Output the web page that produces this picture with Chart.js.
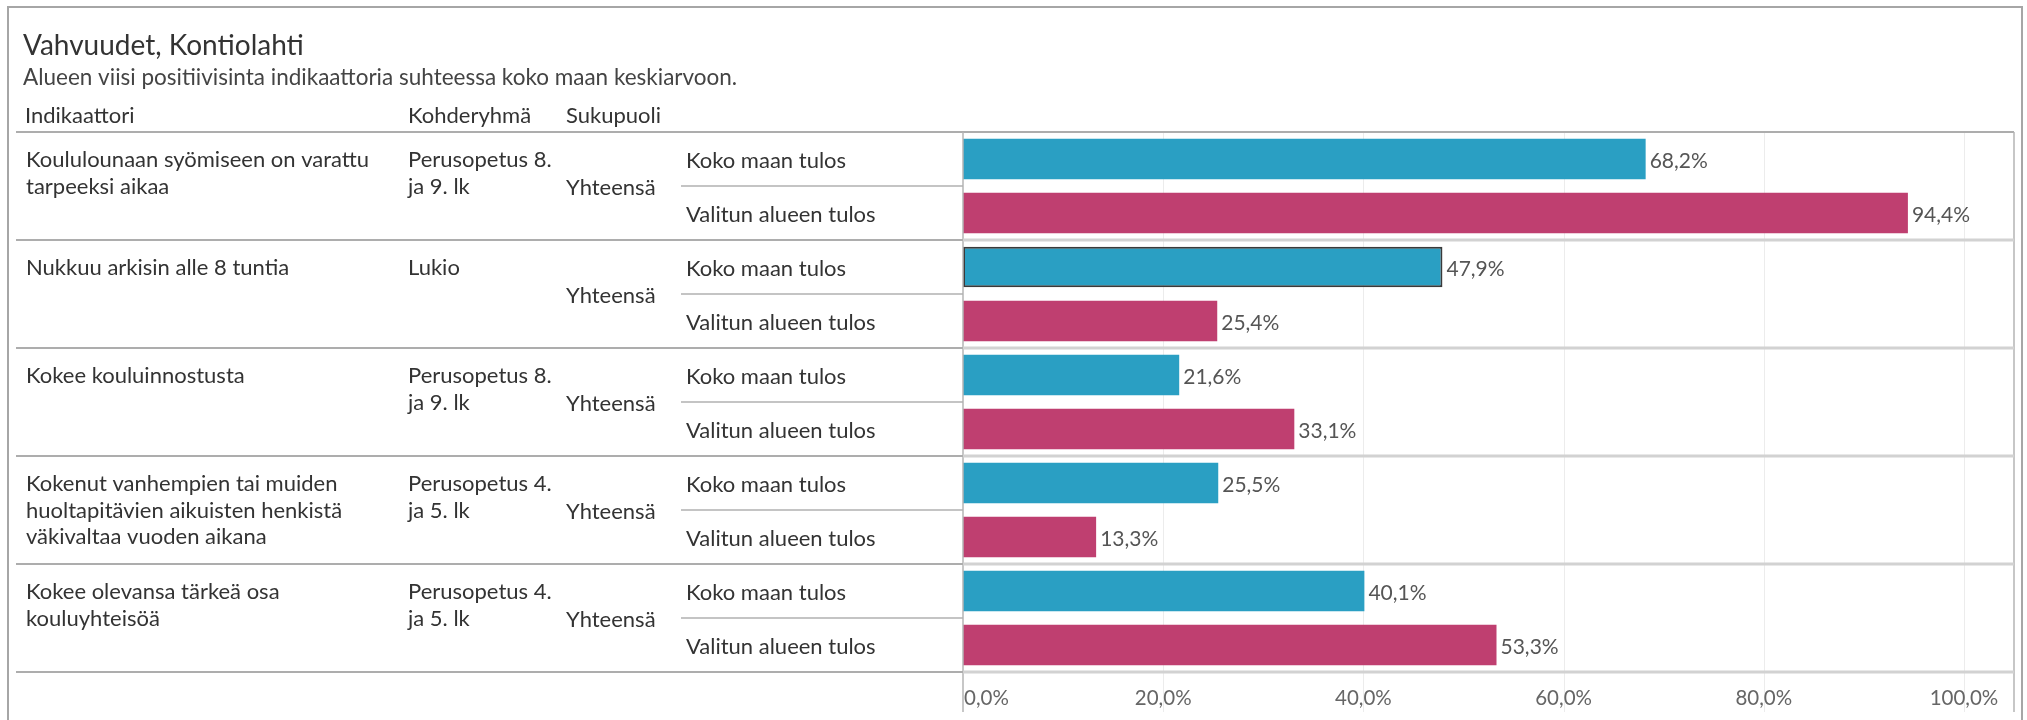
<!DOCTYPE html>
<html>
<head>
<meta charset="utf-8">
<script src="https://cdn.jsdelivr.net/npm/chart.js@4/dist/chart.umd.min.js"></script>
<style>
  html, body { margin: 0; padding: 0; background: #fff; }
  canvas { display: block; }
</style>
</head>
<body>
<canvas id="c" width="2027" height="720"></canvas>
<script>
// ---- data ----
const chartTitle = "Vahvuudet, Kontiolahti";
const chartSubtitle = "Alueen viisi positiivisinta indikaattoria suhteessa koko maan keskiarvoon.";
const columnHeaders = ["Indikaattori", "Kohderyhmä", "Sukupuoli"];
const indicators = [
  ["Koululounaan syömiseen on varattu", "tarpeeksi aikaa"],
  ["Nukkuu arkisin alle 8 tuntia"],
  ["Kokee kouluinnostusta"],
  ["Kokenut vanhempien tai muiden", "huoltapitävien aikuisten henkistä", "väkivaltaa vuoden aikana"],
  ["Kokee olevansa tärkeä osa", "kouluyhteisöä"]
];
const targetGroups = [
  ["Perusopetus 8.", "ja 9. lk"],
  ["Lukio"],
  ["Perusopetus 8.", "ja 9. lk"],
  ["Perusopetus 4.", "ja 5. lk"],
  ["Perusopetus 4.", "ja 5. lk"]
];
const genders = ["Yhteensä", "Yhteensä", "Yhteensä", "Yhteensä", "Yhteensä"];
const resultTypes = ["Koko maan tulos", "Valitun alueen tulos"];
const nationalValues = [68.2, 47.9, 21.6, 25.5, 40.1];
const regionValues   = [94.4, 25.4, 33.1, 13.3, 53.3];
const tickValues = [0, 20, 40, 60, 80, 100];
const axisMax = 105;
const highlightedGroup = 1; // national bar of this group is outlined

// ---- build chart data ----
const labels = [];
const values = [];
indicators.forEach((ind, g) => {
  labels.push(ind.join(" ") + " – " + resultTypes[0]);
  values.push(nationalValues[g]);
  labels.push(ind.join(" ") + " – " + resultTypes[1]);
  values.push(regionValues[g]);
});
const COL_NAT = "#2a9fc3";
const COL_REG = "#bf3f70";
const bg = values.map((v, i) => i % 2 === 0 ? COL_NAT : COL_REG);
const bw = values.map((v, i) => (i === highlightedGroup * 2) ? 2 : 0);

const FONT = "Lato, 'Noto Sans', sans-serif";
const fmt = v => v.toFixed(1).replace(".", ",") + "%";

const tablePlugin = {
  id: "tablePlugin",
  beforeDatasetsDraw(chart) {
    const ctx = chart.ctx;
    const xs = chart.scales.x;
    const ca = chart.chartArea;
    ctx.save();
    ctx.strokeStyle = "#ececec";
    ctx.lineWidth = 1;
    tickValues.forEach(t => {
      if (t === 0) return;
      const x = Math.round(xs.getPixelForValue(t)) + 0.5;
      ctx.beginPath(); ctx.moveTo(x, ca.top); ctx.lineTo(x, ca.bottom + 40); ctx.stroke();
    });
    ctx.restore();
  },
  afterDatasetsDraw(chart) {
    const ctx = chart.ctx;
    const xs = chart.scales.x;
    const ys = chart.scales.y;
    const ca = chart.chartArea;
    const half = (ys.getPixelForValue(1) - ys.getPixelForValue(0)) / 2;
    ctx.save();

    // outer frame
    ctx.strokeStyle = "#a6a6a6";
    ctx.lineWidth = 2;
    ctx.beginPath();
    ctx.moveTo(8, 720); ctx.lineTo(8, 7); ctx.lineTo(2022, 7); ctx.lineTo(2022, 720);
    ctx.stroke();

    // title + subtitle
    ctx.fillStyle = "#333";
    ctx.textBaseline = "middle";
    ctx.textAlign = "left";
    ctx.font = "28px " + FONT;
    ctx.fillText(chartTitle, 23, 46);
    ctx.font = "22.5px " + FONT;
    ctx.fillStyle = "#444";
    ctx.fillText(chartSubtitle, 23, 78);

    // column headers
    ctx.fillStyle = "#333";
    ctx.font = "22px " + FONT;
    const colX = [25, 408, 566];
    columnHeaders.forEach((h, i) => ctx.fillText(h, colX[i], 116));

    // header line
    ctx.strokeStyle = "#adadad";
    ctx.lineWidth = 2;
    ctx.beginPath(); ctx.moveTo(16, ca.top); ctx.lineTo(ca.right, ca.top); ctx.stroke();

    // axis + panel lines
    ctx.strokeStyle = "#b4b4b4";
    ctx.lineWidth = 1.5;
    ctx.beginPath(); ctx.moveTo(ca.left, ca.top); ctx.lineTo(ca.left, ca.bottom + 40); ctx.stroke();
    ctx.beginPath(); ctx.moveTo(ca.right, ca.top); ctx.lineTo(ca.right, ca.bottom + 40); ctx.stroke();

    // rows
    indicators.forEach((ind, g) => {
      const yA = ys.getPixelForValue(g * 2);
      const yB = ys.getPixelForValue(g * 2 + 1);
      const bottom = yB + half;
      const mid = (yA + yB) / 2;

      ctx.strokeStyle = "#adadad";
      ctx.lineWidth = 2;
      ctx.beginPath(); ctx.moveTo(16, bottom); ctx.lineTo(ca.left, bottom); ctx.stroke();
      ctx.strokeStyle = "#d2d2d2";
      ctx.lineWidth = 3;
      ctx.beginPath(); ctx.moveTo(ca.left, bottom); ctx.lineTo(ca.right, bottom); ctx.stroke();

      ctx.strokeStyle = "#b0b0b0";
      ctx.lineWidth = 1.5;
      ctx.beginPath(); ctx.moveTo(681, mid); ctx.lineTo(ca.left, mid); ctx.stroke();

      ctx.fillStyle = "#333";
      ctx.font = "22px " + FONT;
      const lh = 26.5;
      ind.forEach((line, k) => ctx.fillText(line, 26, yA + 1 + k * lh));
      targetGroups[g].forEach((line, k) => ctx.fillText(line, 408, yA + 1 + k * lh));
      ctx.fillText(genders[g], 566, mid + 2);
      ctx.fillText(resultTypes[0], 686, yA + 2);
      ctx.fillText(resultTypes[1], 686, yB + 2);
    });

    // value labels
    ctx.fillStyle = "#555";
    ctx.font = "21px " + FONT;
    values.forEach((v, i) => {
      const x = xs.getPixelForValue(v) + 4;
      const y = ys.getPixelForValue(i) + 2;
      ctx.fillText(fmt(v), x, y);
    });

    // x tick labels
    ctx.fillStyle = "#666";
    ctx.font = "20.5px " + FONT;
    tickValues.forEach((t, i) => {
      const x = xs.getPixelForValue(t);
      ctx.textAlign = i === 0 ? "left" : "center";
      ctx.fillText(fmt(t), i === 0 ? x + 1 : x, ca.bottom + 26);
    });
    ctx.restore();
  }
};

new Chart(document.getElementById("c"), {
  type: "bar",
  data: {
    labels: labels,
    datasets: [{
      data: values,
      backgroundColor: bg,
      borderColor: "#3a3a3a",
      borderWidth: bw,
      borderSkipped: false,
      barPercentage: 0.75,
      categoryPercentage: 1.0
    }]
  },
  options: {
    indexAxis: "y",
    responsive: false,
    animation: false,
    events: [],
    layout: { padding: { left: 963, top: 132, right: 13, bottom: 0 } },
    plugins: { legend: { display: false }, tooltip: { enabled: false } },
    scales: {
      x: {
        min: 0, max: axisMax,
        grid: { display: false },
        border: { display: false },
        ticks: { display: false },
        afterFit(scale) { scale.height = 48; }
      },
      y: { display: false }
    }
  },
  plugins: [tablePlugin]
});
</script>
</body>
</html>
